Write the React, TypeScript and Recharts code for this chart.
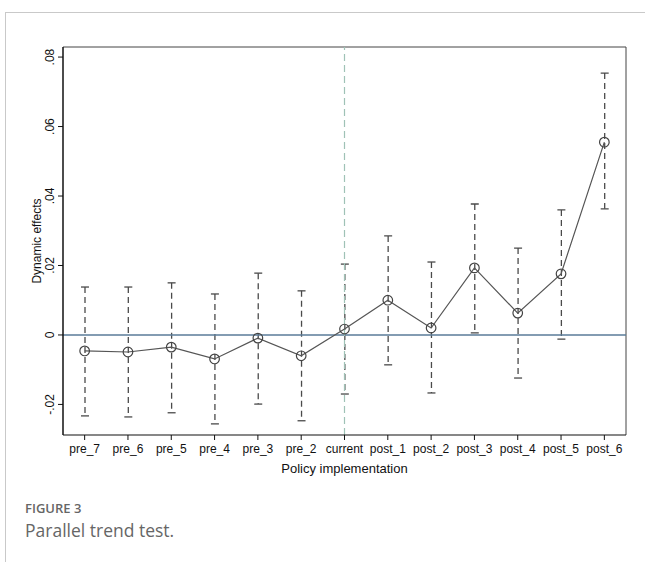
import React from 'react';
import { ComposedChart, Line, Bar, XAxis, YAxis, ReferenceLine, CartesianGrid } from 'recharts';

const periods = ['pre_7', 'pre_6', 'pre_5', 'pre_4', 'pre_3', 'pre_2', 'current', 'post_1', 'post_2', 'post_3', 'post_4', 'post_5', 'post_6'];
const effects = [-0.0046, -0.0049, -0.0035, -0.0069, -0.0009, -0.006, 0.0017, 0.01, 0.002, 0.0193, 0.0063, 0.0176, 0.0555];
const ciLow = [-0.0233, -0.0236, -0.0224, -0.0256, -0.0199, -0.0247, -0.017, -0.0086, -0.0167, 0.0006, -0.0124, -0.0012, 0.0363];
const ciHigh = [0.0138, 0.0138, 0.015, 0.0118, 0.0178, 0.0127, 0.0204, 0.0285, 0.021, 0.0377, 0.025, 0.036, 0.0754];
const yTicks = [-0.02, 0, 0.02, 0.04, 0.06, 0.08];
const yDomain = [-0.0288, 0.0829];

const data = periods.map((p, i) => ({ period: p, effect: effects[i], ci: [ciLow[i], ciHigh[i]] }));

const FONT = '"Liberation Sans", Arial, sans-serif';

const fmtY = (v: number) => (v === 0 ? '0' : v.toFixed(2).replace('0.', '.'));

// dashed CI line with solid caps
const CiShape = (props: any) => {
  const { x, y, width, height } = props;
  const cx = x + width / 2;
  const top = Math.min(y, y + height);
  const bot = Math.max(y, y + height);
  return (
    <g stroke="#4a4a4a" strokeWidth={1.3}>
      <line x1={cx} x2={cx} y1={top} y2={bot} strokeDasharray="6 4" />
      <line x1={cx - 4} x2={cx + 4} y1={top} y2={top} />
      <line x1={cx - 4} x2={cx + 4} y1={bot} y2={bot} />
    </g>
  );
};

const YTick = (props: any) => {
  const { y, payload } = props;
  const x = 50;
  return (
    <text x={x} y={y} dy="0.35em" transform={`rotate(-90, ${x}, ${y})`} textAnchor="middle"
      fontFamily={FONT} fontSize={12} fill="#111">
      {fmtY(payload.value)}
    </text>
  );
};

const XTick = (props: any) => {
  const { x, payload } = props;
  return (
    <text x={x} y={453} textAnchor="middle" fontFamily={FONT} fontSize={12} fill="#111">
      {payload.value}
    </text>
  );
};

// top and right edges of the plot frame
const topEdge = ({ offset }: any) => [offset.top];
const rightEdge = ({ offset }: any) => [offset.left + offset.width];

export default function App() {
  return (
    <div style={{ position: 'absolute', left: 0, top: 0, width: 645, height: 562, background: '#fff', overflow: 'hidden' }}>
      <div style={{ position: 'absolute', left: 5, top: 12, right: 0, bottom: 0, borderTop: '1px solid #c9c9c9', borderLeft: '1px solid #c9c9c9' }} />
      <div style={{ position: 'absolute', left: 0, top: 0 }}>
        <ComposedChart width={645} height={490} data={data} margin={{ top: 47, right: 19, bottom: 15, left: 33 }}>
          <CartesianGrid stroke="#444" strokeWidth={1} horizontalCoordinatesGenerator={topEdge}
            verticalCoordinatesGenerator={rightEdge} />
          <XAxis dataKey="period" height={40} tick={<XTick />} tickSize={5} interval={0}
            axisLine={{ stroke: '#111', strokeWidth: 1.2 }} tickLine={{ stroke: '#111' }}
            label={{ value: 'Policy implementation', position: 'insideBottom', offset: 2, fontFamily: FONT, fontSize: 13, fill: '#111' }} />
          <YAxis type="number" domain={yDomain} ticks={yTicks} allowDataOverflow width={30} tickSize={5}
            tick={<YTick />} axisLine={{ stroke: '#111', strokeWidth: 1.5 }} tickLine={{ stroke: '#111' }}
            label={{ value: 'Dynamic effects', angle: -90, position: 'insideLeft', offset: 4, fontFamily: FONT, fontSize: 12, fill: '#111', style: { textAnchor: 'middle' } }} />
          <ReferenceLine y={0} stroke="#5a7b98" strokeWidth={1.5} />
          <ReferenceLine x="current" stroke="#9fc2b6" strokeWidth={1.2} strokeDasharray="7 4" />
          <Bar dataKey="ci" barSize={8} shape={<CiShape />} isAnimationActive={false} />
          <Line dataKey="effect" stroke="#555" strokeWidth={1.2} isAnimationActive={false}
            dot={{ r: 4.8, stroke: '#444', strokeWidth: 1.2, fill: 'none' }} activeDot={false} />
        </ComposedChart>
      </div>
      <div style={{ position: 'absolute', left: 25, top: 502, fontFamily: '"Open Sans", sans-serif', fontWeight: 600, fontSize: 13, lineHeight: '13px', color: '#666' }}>
        FIGURE 3
      </div>
      <div style={{ position: 'absolute', left: 25, top: 522, fontFamily: '"Open Sans", sans-serif', fontSize: 17.5, lineHeight: '17px', color: '#666' }}>
        Parallel trend test.
      </div>
    </div>
  );
}
